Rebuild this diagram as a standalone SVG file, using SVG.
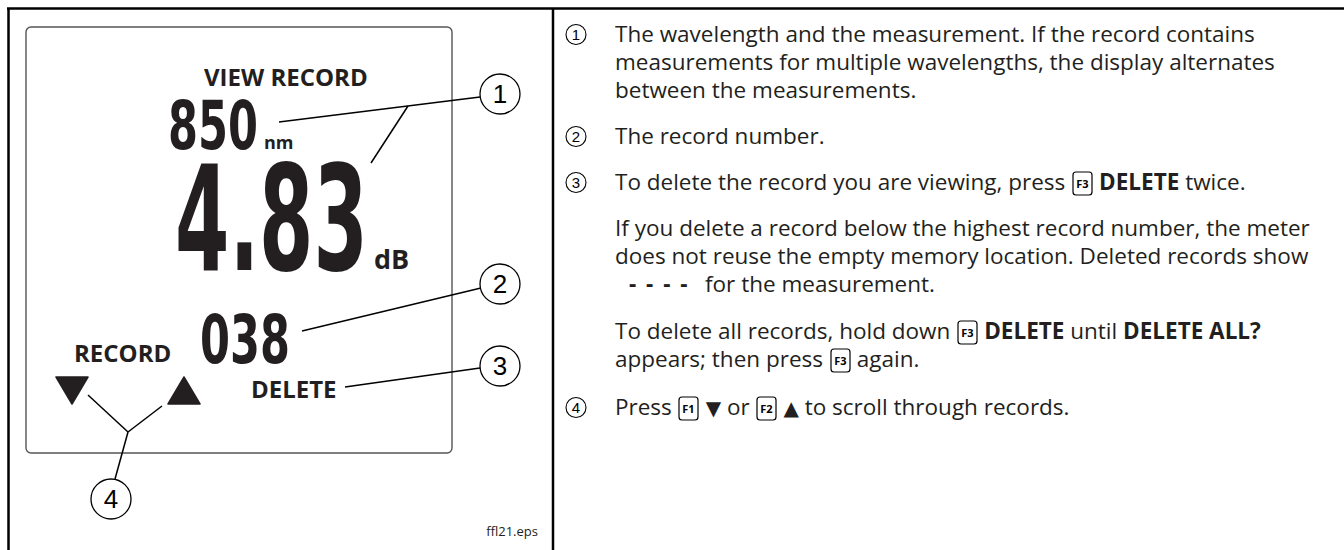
<svg xmlns="http://www.w3.org/2000/svg" width="1344" height="550" viewBox="0 0 1344 550">
<style>
.frame{fill:none;stroke:#000;stroke-width:2.5}
.lcd{fill:none;stroke:#555;stroke-width:1.4}
.lbl{font-family:"Open Sans","Noto Sans",sans-serif;font-weight:bold;fill:#231f20}
.seg{font-family:"DejaVu Sans",sans-serif;font-weight:bold;fill:#231f20}
.co{fill:#fff;stroke:#000;stroke-width:1.3}
.con{fill:none;stroke:#000;stroke-width:1.5}
.cn{font-family:"Liberation Sans",Arial,sans-serif;font-size:26px;text-anchor:middle;fill:#000}
.body{font-family:"Open Sans","Noto Sans",sans-serif;font-size:22.5px;fill:#231f20}
.sc{fill:none;stroke:#000;stroke-width:1.1}
.sn{font-family:"Liberation Sans",Arial,sans-serif;font-size:15px;text-anchor:middle;fill:#000}
.key{fill:#fff;stroke:#000;stroke-width:1.2}
.kt{font-family:"Open Sans",sans-serif;font-size:11px;font-weight:bold;text-anchor:middle;fill:#000}
.tri{fill:#231f20;stroke:#231f20;stroke-width:1.5;stroke-linejoin:round}
.sym{font-family:"DejaVu Sans",sans-serif;font-size:20px}
</style>

<g id="frame">
  <line class="frame" x1="7" y1="8.5" x2="1344" y2="8.5"/>
  <line class="frame" x1="8.5" y1="8" x2="8.5" y2="550"/>
  <line class="frame" x1="553" y1="8" x2="553" y2="550"/>
</g>

<g id="lcd-screen">
  <rect class="lcd" x="26" y="27" width="426" height="426" rx="5"/>
</g>

<g id="view-record-label">
  <text class="lbl" x="204" y="86" font-size="24">VIEW RECORD</text>
</g>

<g id="wavelength">
  <text class="seg" font-size="68" transform="translate(168,149) scale(0.634,1)">850</text>
  <text class="lbl" x="264" y="149" font-size="18">nm</text>
</g>

<g id="measurement">
  <text class="seg" font-size="147" transform="translate(175,270) scale(0.532,1)">4.83</text>
  <text class="lbl" x="374" y="269" font-size="27">dB</text>
</g>

<g id="record-number">
  <text class="seg" font-size="68" transform="translate(200,363) scale(0.634,1)">038</text>
</g>

<g id="record-label">
  <text class="lbl" x="74" y="362" font-size="24">RECORD</text>
</g>

<g id="delete-label">
  <text class="lbl" x="251" y="398" font-size="24">DELETE</text>
</g>

<g id="arrows">
  <polygon class="tri" points="56,377 88,377 72,404"/>
  <polygon class="tri" points="168,404 200,404 184,377"/>
</g>

<g id="connectors">
  <line class="con" x1="279" y1="122" x2="480" y2="97"/>
  <line class="con" x1="371" y1="163" x2="408" y2="106"/>
  <line class="con" x1="302" y1="331" x2="481" y2="288"/>
  <line class="con" x1="345" y1="387" x2="480" y2="368"/>
  <line class="con" x1="88" y1="395" x2="128" y2="432"/>
  <line class="con" x1="162" y1="406" x2="128" y2="432"/>
  <line class="con" x1="128" y1="432" x2="115" y2="479"/>
</g>

<g id="callout-1">
  <circle class="co" cx="500" cy="94" r="20"/>
  <text class="cn" x="500" y="103">1</text>
</g>
<g id="callout-2">
  <circle class="co" cx="500" cy="284" r="20"/>
  <text class="cn" x="500" y="293">2</text>
</g>
<g id="callout-3">
  <circle class="co" cx="500" cy="366" r="20"/>
  <text class="cn" x="500" y="375">3</text>
</g>
<g id="callout-4">
  <circle class="co" cx="111" cy="499" r="20"/>
  <text class="cn" x="111" y="508">4</text>
</g>

<g id="figure-id">
  <text x="538" y="536" font-family="Open Sans, sans-serif" font-size="13" text-anchor="end" fill="#231f20">ffl21.eps</text>
</g>

<g id="legend-1">
  <circle class="sc" cx="576" cy="34.5" r="10"/>
  <text class="sn" x="576" y="40">1</text>
  <text class="body" x="615" y="42">The wavelength and the measurement. If the record contains</text>
  <text class="body" x="615" y="70">measurements for multiple wavelengths, the display alternates</text>
  <text class="body" x="615" y="98">between the measurements.</text>
</g>

<g id="legend-2">
  <circle class="sc" cx="576" cy="136.5" r="10"/>
  <text class="sn" x="576" y="142">2</text>
  <text class="body" x="615" y="144">The record number.</text>
</g>

<g id="legend-3">
  <circle class="sc" cx="576" cy="182.5" r="10"/>
  <text class="sn" x="576" y="188">3</text>
  <text class="body" x="615" y="190">To delete the record you are viewing, press <tspan dx="28" font-weight="bold">DELETE</tspan> twice.</text>
  <rect class="key" x="1073" y="172" width="19" height="23" rx="3"/>
  <text class="kt" x="1082.5" y="188">F3</text>
  <text class="body" x="615" y="236">If you delete a record below the highest record number, the meter</text>
  <text class="body" x="615" y="264">does not reuse the empty memory location. Deleted records show</text>
  <text class="body" x="629" y="292"><tspan font-weight="bold" letter-spacing="2">- - - -</tspan><tspan x="705">for the measurement.</tspan></text>
  <text class="body" x="615" y="339">To delete all records, hold down <tspan dx="28" font-weight="bold">DELETE</tspan> until <tspan font-weight="bold">DELETE ALL?</tspan></text>
  <rect class="key" x="958" y="321" width="19" height="23" rx="3"/>
  <text class="kt" x="967.5" y="337">F3</text>
  <text class="body" x="615" y="367">appears; then press <tspan dx="28">again.</tspan></text>
  <rect class="key" x="831" y="349" width="19" height="23" rx="3"/>
  <text class="kt" x="840.5" y="365">F3</text>
</g>

<g id="legend-4">
  <circle class="sc" cx="576" cy="407.5" r="10"/>
  <text class="sn" x="576" y="413">4</text>
  <text class="body" x="615" y="415">Press <tspan dx="28" class="sym">▼</tspan> or <tspan dx="28" class="sym">▲</tspan> to scroll through records.</text>
  <rect class="key" x="679" y="397" width="19" height="23" rx="3"/>
  <text class="kt" x="688.5" y="413">F1</text>
  <rect class="key" x="757" y="397" width="19" height="23" rx="3"/>
  <text class="kt" x="766.5" y="413">F2</text>
</g>
</svg>
